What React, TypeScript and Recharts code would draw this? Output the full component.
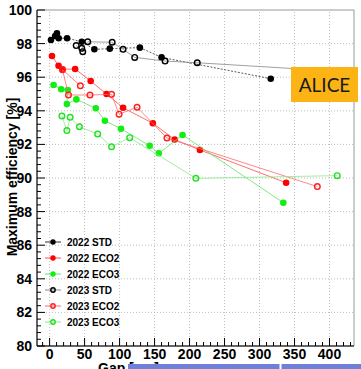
import { ScatterChart, Scatter, XAxis, YAxis, ReferenceLine, ReferenceArea } from 'recharts'

// gap [um] / max efficiency [%], in drawing order
const STD_2022_GAP = [2, 8, 10.5, 13, 25, 46, 64, 86, 129, 160, 316]
const STD_2022_EFF = [98.21, 98.45, 98.61, 98.32, 98.32, 98.11, 97.66, 97.7, 97.76, 97.18, 95.91]

const ECO2_2022_GAP = [3.4, 12.8, 18.4, 36.5, 58.7, 81.4, 105, 147.5, 178.7, 214.8, 338]
const ECO2_2022_EFF = [97.26, 96.68, 96.47, 96.49, 95.77, 95.0, 94.18, 93.26, 92.29, 91.67, 89.72]

const ECO3_2022_GAP = [5.7, 16.6, 26.1, 24.7, 38.3, 66, 79, 102, 143, 156, 190, 334]
const ECO3_2022_EFF = [95.54, 95.28, 95.24, 94.4, 94.68, 94.15, 93.41, 92.93, 91.92, 91.47, 92.56, 88.53]

const STD_2023_GAP = [38, 47.4, 46, 54.5, 89.4, 105, 121.6, 165, 211, 398]
const STD_2023_EFF = [97.88, 97.52, 97.72, 98.11, 98.08, 97.66, 97.18, 96.96, 96.86, 96.39]

const ECO2_2023_GAP = [44, 18.4, 27, 57.7, 88.5, 99.3, 125, 167.7, 382.6]
const ECO2_2023_EFF = [95.49, 96.45, 94.94, 94.94, 94.98, 93.8, 94.21, 92.38, 89.49]

const ECO3_2023_GAP = [17.6, 24.7, 29.4, 42.6, 68.7, 88.5, 114.5, 209, 411]
const ECO3_2023_EFF = [93.69, 92.82, 93.61, 93.05, 92.62, 91.86, 92.4, 89.98, 90.14]

const X_LABELS = [0, 50, 100, 150, 200, 250, 300, 350, 400]
const Y_LABELS = [80, 82, 84, 86, 88, 90, 92, 94, 96, 98, 100]

const X_DOMAIN: [number, number] = [-18, 435]
const Y_DOMAIN: [number, number] = [80, 100]

const pts = (gap: number[], eff: number[]) => gap.map((x, i) => ({ x, y: eff[i] }))

const SERIES = [
  { name: '2022 STD', data: pts(STD_2022_GAP, STD_2022_EFF), color: '#000', line: '#333', dash: '2 1.5', open: false },
  { name: '2022 ECO2', data: pts(ECO2_2022_GAP, ECO2_2022_EFF), color: '#ff0000', line: '#ff4a4a', dash: undefined, open: false },
  { name: '2022 ECO3', data: pts(ECO3_2022_GAP, ECO3_2022_EFF), color: '#11ee11', line: '#66e066', dash: undefined, open: false },
  { name: '2023 STD', data: pts(STD_2023_GAP, STD_2023_EFF), color: '#000', line: '#888', dash: undefined, open: true },
  { name: '2023 ECO2', data: pts(ECO2_2023_GAP, ECO2_2023_EFF), color: '#ff2020', line: '#ff6a6a', dash: undefined, open: true },
  { name: '2023 ECO3', data: pts(ECO3_2023_GAP, ECO3_2023_EFF), color: '#22e022', line: '#8aea8a', dash: undefined, open: true },
]

const FONT = '"Liberation Sans", Arial, Helvetica, sans-serif'

// minor ticks: every 10 on x, every 0.4 on y
const xTicks: number[] = []
for (let v = -10; v <= 430; v += 10) xTicks.push(v)
const yTicks: number[] = []
for (let k = 0; k <= 50; k++) yTicks.push(Math.round((80 + k * 0.4) * 10) / 10)

function XTick(props: any) {
  const { x, y, payload } = props
  const major = X_LABELS.includes(payload.value)
  return (
    <g>
      <line x1={x} x2={x} y1={y} y2={y - (major ? 8 : 4)} stroke="#000" strokeWidth={1} />
      {major && (
        <text x={x} y={y + 13} textAnchor="middle" fontFamily={FONT} fontWeight="bold" fontSize={14} fill="#000">
          {payload.value}
        </text>
      )}
    </g>
  )
}

function YTick(props: any) {
  const { x, y, payload } = props
  const major = Y_LABELS.includes(payload.value)
  return (
    <g>
      <line x1={x} x2={x + (major ? 8 : 4)} y1={y} y2={y} stroke="#000" strokeWidth={1} />
      {major && (
        <text x={x - 5} y={y + 5} textAnchor="end" fontFamily={FONT} fontWeight="bold" fontSize={14} fill="#000">
          {payload.value}
        </text>
      )}
    </g>
  )
}

const dot = (color: string, open: boolean, r = 3.3) => (p: any) =>
  open ? (
    <circle cx={p.cx} cy={p.cy} r={r - 0.5} fill="none" stroke={color} strokeWidth={1.4} />
  ) : (
    <circle cx={p.cx} cy={p.cy} r={r} fill={color} />
  )

export default function App() {
  return (
    <div style={{ position: 'absolute', left: 0, top: 0, width: 361, height: 369, background: '#fff' }}>
      <ScatterChart width={361} height={369} margin={{ top: 10, right: 7, bottom: 0, left: 0 }}>
        <XAxis
          type="number"
          dataKey="x"
          domain={X_DOMAIN}
          allowDataOverflow
          ticks={xTicks}
          interval={0}
          tick={<XTick />}
          tickLine={false}
          tickSize={0}
          tickMargin={0}
          height={23}
          axisLine={{ stroke: '#000' }}
        />
        <YAxis
          type="number"
          dataKey="y"
          domain={Y_DOMAIN}
          allowDataOverflow
          ticks={yTicks}
          interval={0}
          tick={<YTick />}
          tickLine={false}
          tickSize={0}
          tickMargin={0}
          width={37}
          axisLine={{ stroke: '#000' }}
        />
        {X_LABELS.map((v) => (
          <ReferenceLine key={'gx' + v} x={v} stroke="#bdbdbd" strokeDasharray="1 2" />
        ))}
        {Y_LABELS.slice(1, -1).map((v) => (
          <ReferenceLine key={'gy' + v} y={v} stroke="#bdbdbd" strokeDasharray="1 2" />
        ))}
        <ReferenceArea x1={X_DOMAIN[0]} x2={X_DOMAIN[1]} y1={Y_DOMAIN[0]} y2={Y_DOMAIN[1]} fill="none" stroke="#999" />
        {SERIES.map((s) => (
          <Scatter
            key={s.name}
            name={s.name}
            data={s.data}
            line={{ stroke: s.line, strokeWidth: 0.8, strokeDasharray: s.dash }}
            shape={dot(s.color, s.open)}
            isAnimationActive={false}
          />
        ))}
      </ScatterChart>
      <svg width={361} height={369} style={{ position: 'absolute', left: 0, top: 0, pointerEvents: 'none' }}>
        <text
          transform="translate(16.5,177) rotate(-90)"
          textAnchor="middle"
          fontFamily={FONT}
          fontWeight="bold"
          fontSize={14}
          fill="#000"
        >
          Maximum efficiency [%]
        </text>
        <text x={98} y={373} fontFamily={FONT} fontWeight="bold" fontSize={14} fill="#000">
          Gap [µm]
        </text>
        <rect x={128} y={364} width={233} height={6} fill="#7080d8" />
        <rect x={279.5} y={364} width={2} height={6} fill="#fff" />
        <rect x={291} y={67} width={67} height={35} fill="#fbb414" />
        <text x={324.5} y={92} textAnchor="middle" fontFamily="Lato, sans-serif" fontSize={19} fill="#1a1a1a">
          ALICE
        </text>
        {SERIES.map((s, i) => {
          const cy = 242 + i * 16
          return (
            <g key={s.name}>
              <line x1={45} x2={61} y1={cy} y2={cy} stroke={s.line} strokeWidth={1} />
              {dot(s.color, s.open, 2.7)({ cx: 53, cy })}
              <text x={67} y={cy + 3.5} fontFamily={FONT} fontWeight="bold" fontSize={10} fill="#000">
                {s.name}
              </text>
            </g>
          )
        })}
      </svg>
    </div>
  )
}
